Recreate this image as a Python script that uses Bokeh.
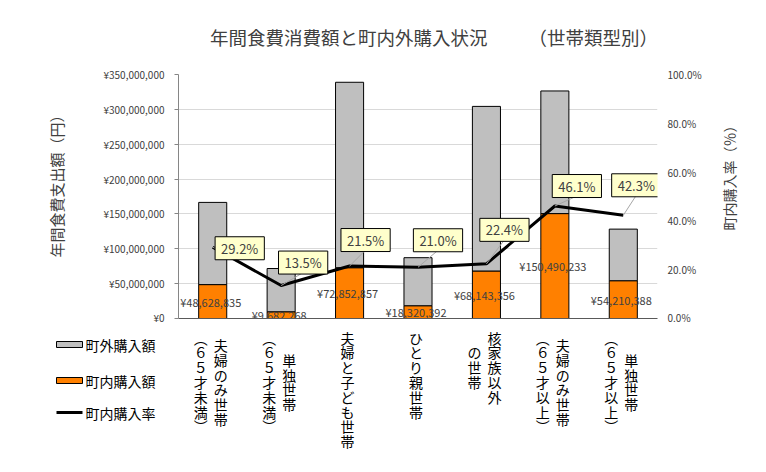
import math
from bokeh.plotting import figure
from bokeh.layouts import column
from bokeh.models import (Range1d, LinearAxis, FixedTicker, NumeralTickFormatter,
                          ColumnDataSource)
from bokeh.core.properties import value
from bokeh.embed import file_html
from bokeh.resources import INLINE

# ---------------- data ----------------
title_text = "年間食費消費額と町内外購入状況　　 （世帯類型別）"
left_label = "年間食費支出額（円）"
right_label = "町内購入率（％）"
series_names = ["町外購入額", "町内購入額", "町内購入率"]

# each category: columns of vertical text, first column is the rightmost
categories = [
    ["夫婦のみ世帯", "（６５才未満）"],
    ["単独世帯", "（６５才未満）"],
    ["夫婦と子ども世帯"],
    ["ひとり親世帯"],
    ["核家族以外", "の世帯"],
    ["夫婦のみ世帯", "（６５才以上）"],
    ["単独世帯", "（６５才以上）"],
]
inside_yen = [48628835, 9682268, 72852857, 18320392, 68143356, 150490233, 54210388]
outside_yen = [117900000, 62000000, 266000000, 68900000, 236100000, 175900000, 74000000]
inside_rate = [0.292, 0.135, 0.215, 0.210, 0.224, 0.461, 0.423]

yen_ticks = [0, 50000000, 100000000, 150000000, 200000000, 250000000, 300000000, 350000000]
pct_ticks = [0.0, 0.2, 0.4, 0.6, 0.8, 1.0]

# ---------------- style ----------------
FONT = "Noto Sans CJK JP"
TXT = "#404040"
ORANGE = "#FF8000"
GRAY = "#BFBFBF"
W = 760
H_TOP, H_BOT = 324, 142
BL, BR, BT, BB = 178, 103, 74, 6
FRAME_W = W - BL - BR
FRAME_H = H_TOP - BT - BB
n = len(categories)
PX_PER_CAT = FRAME_W / n

# rate-label box offsets (screen px, +y = down)
box_dx = [27, 22, 16, 20, 18, 22, 13]
box_dy = [1, -23, -26, -27, -34, -20, -30]

xs = list(range(n))

p = figure(width=W, height=H_TOP, x_range=Range1d(-0.5, n - 0.5), y_range=Range1d(0, 350000000),
           output_backend="svg", toolbar_location=None,
           min_border_left=BL, min_border_right=BR, min_border_top=BT, min_border_bottom=BB)
p.extra_y_ranges = {"rate": Range1d(0, 1)}
p.outline_line_color = None

p.xgrid.visible = False
p.ygrid.grid_line_color = "#D9D9D9"
p.ygrid.ticker = FixedTicker(ticks=yen_ticks)

xa = p.xaxis[0]
xa.ticker = FixedTicker(ticks=[])
xa.major_label_text_font_size = "0px"
xa.major_label_standoff = 0
xa.major_tick_out = 0
xa.major_tick_line_color = None
xa.minor_tick_line_color = None
xa.axis_line_color = "#595959"

ya = p.yaxis[0]
ya.ticker = FixedTicker(ticks=yen_ticks)
ya.major_label_overrides = {t: f"¥{t:,}" for t in yen_ticks}
ya.major_label_text_font = FONT
ya.major_label_text_font_size = "10px"
ya.major_label_text_color = TXT
ya.major_tick_in = 0
ya.major_tick_out = 4
ya.major_tick_line_color = "#868686"
ya.minor_tick_line_color = None
ya.axis_line_color = "#868686"
ya.major_label_standoff = 10

ra = LinearAxis(y_range_name="rate", ticker=FixedTicker(ticks=pct_ticks),
                formatter=NumeralTickFormatter(format="0.0%"))
ra.axis_line_color = None
ra.major_tick_line_color = None
ra.major_tick_out = 0
ra.minor_tick_line_color = None
ra.major_label_standoff = 10
ra.major_label_text_font = FONT
ra.major_label_text_font_size = "10px"
ra.major_label_text_color = TXT
p.add_layout(ra, "right")

# ---------------- sources ----------------
lx = [x + dx / PX_PER_CAT for x, dx in zip(xs, box_dx)]
ly = [r - (dy + 10) / FRAME_H for r, dy in zip(inside_rate, box_dy)]
src = ColumnDataSource(dict(
    x=xs, inside=inside_yen, outside=outside_yen, rate=inside_rate,
    mid=[v / 2 for v in inside_yen],
    inside_txt=[f"¥{v:,}" for v in inside_yen],
    rate_txt=[f"{r * 100:.1f}%" for r in inside_rate],
    dx=box_dx, dy=box_dy, lx=lx, ly=ly,
))

bars = p.vbar_stack(["inside", "outside"], x="x", width=0.41, source=src,
                    fill_color=[ORANGE, GRAY], line_color="black", line_width=1)
line = p.line("x", "rate", source=src, y_range_name="rate", line_color="black", line_width=3)

p.text(x="x", y="mid", text="inside_txt", source=src, x_offset=-2,
       text_align="center", text_baseline="middle", text_font=value(FONT),
       text_font_size="11px", text_color=TXT)

p.segment(x0="x", y0="rate", x1="lx", y1="ly", source=src, y_range_name="rate",
          line_color="#A6A6A6", line_width=1)
p.text(x="x", y="rate", text="rate_txt", source=src, y_range_name="rate",
       x_offset="dx", y_offset="dy", text_align="center", text_baseline="middle",
       text_font=value(FONT), text_font_size="13px", text_color=TXT,
       background_fill_color="#FFFFCC", border_line_color="black", border_line_width=1,
       padding=dict(left=6, right=6, top=2, bottom=2))

# chart title and axis titles (drawn unclipped at overlay level)
p.text(x=[(n - 1) / 2], y=[1.0], text=[title_text], y_range_name="rate",
       x_offset=16, y_offset=-38, text_align="center", text_baseline="middle",
       text_font=value(FONT), text_font_size="18.5px", text_color=TXT, level="overlay")
p.text(x=[-0.5], y=[0.5], text=[left_label], y_range_name="rate",
       x_offset=-122, y_offset=-14, angle=math.pi / 2, text_align="center",
       text_baseline="middle", text_font=value(FONT), text_font_size="15px",
       text_color=TXT, level="overlay")
p.text(x=[n - 0.5], y=[0.5], text=[right_label], y_range_name="rate",
       x_offset=71, y_offset=-22, angle=math.pi / 2, text_align="center",
       text_baseline="middle", text_font=value(FONT), text_font_size="14px",
       text_color=TXT, level="overlay")

# ---------------- bottom strip: vertical category labels + legend ----------------
p2 = figure(width=W, height=H_BOT, x_range=Range1d(-0.5, n - 0.5), y_range=Range1d(H_BOT, 0),
            output_backend="svg", toolbar_location=None,
            min_border_left=BL, min_border_right=BR, min_border_top=0, min_border_bottom=0)
p2.outline_line_color = None
p2.axis.visible = False
p2.grid.visible = False

VERT = {"（": "︵", "）": "︶"}
PITCH = 14.8
COL_GAP = 20
TOP_CHAR = 13
cx, cy, ct = [], [], []
for i, cols in enumerate(categories):
    nmax = max(len(c) for c in cols)
    ncol = len(cols)
    for j, col in enumerate(cols):
        xoff = -2 + ((ncol - 1) / 2 - j) * COL_GAP
        start = (nmax - len(col)) / 2
        for k, ch in enumerate(col):
            cx.append(i + xoff / PX_PER_CAT)
            cy.append(TOP_CHAR + (start + k) * PITCH)
            ct.append(VERT.get(ch, ch))
p2.text(x=cx, y=cy, text=ct, text_align="center", text_baseline="middle",
        text_font=value(FONT), text_font_size="14px", text_color="black")

# legend drawn by hand left of the frame (overlay level, unclipped)
LEG_X0, LEG_X1 = 56, 82
leg_y = [20, 56, 88]
def px_to_x(px):
    return -0.5 + (px - BL) / PX_PER_CAT
p2.rect(x=[px_to_x((LEG_X0 + LEG_X1) / 2)] * 2, y=leg_y[:2],
        width=LEG_X1 - LEG_X0, width_units="screen", height=6, height_units="screen",
        fill_color=[GRAY, ORANGE], line_color="black", line_width=1, level="overlay")
p2.segment(x0=[px_to_x(LEG_X0)], y0=[leg_y[2]], x1=[px_to_x(LEG_X1)], y1=[leg_y[2]],
           line_color="black", line_width=3, level="overlay")
p2.text(x=[px_to_x(LEG_X1 + 3)] * 3, y=leg_y, text=series_names, text_align="left",
        text_baseline="middle", text_font=value(FONT), text_font_size="14px",
        text_color="black", level="overlay")

layout = column(p, p2, spacing=0)
open("out.html", "w").write(file_html(layout, INLINE))
